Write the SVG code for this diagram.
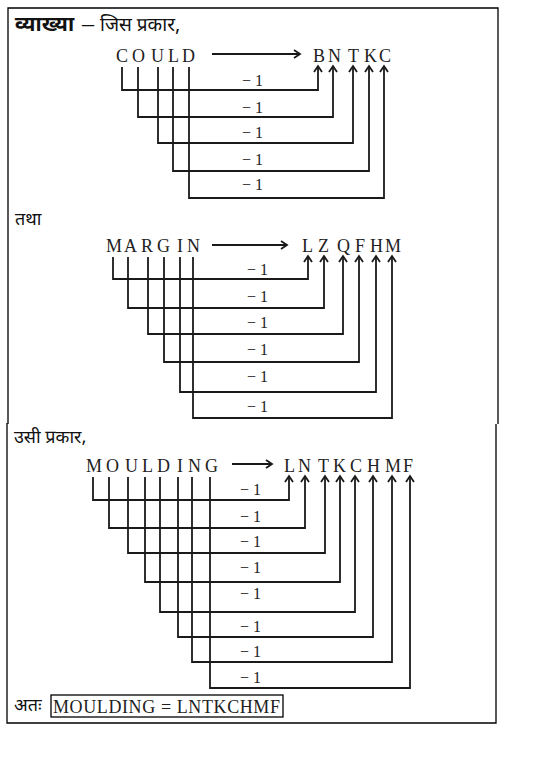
<svg xmlns="http://www.w3.org/2000/svg" width="552" height="778" viewBox="0 0 552 778">
<style>
.hi{font-family:"Noto Sans Devanagari","Noto Sans","DejaVu Sans",sans-serif;font-size:18px;fill:#111}
.lt{font-family:"Liberation Serif","Times New Roman",serif;font-size:18px;fill:#222}
.m1{font-family:"Liberation Serif","Times New Roman",serif;font-size:16px;fill:#222}
.ln{fill:none;stroke:#1a1a1a;stroke-width:1.8}
.bd{fill:none;stroke:#000;stroke-width:1.3}
</style>
<defs>
<marker id="ah" viewBox="-9 -6 11 12" refX="0" refY="0" markerWidth="11" markerHeight="12" markerUnits="userSpaceOnUse" orient="auto">
<path d="M-6,-4 L0,0 L-6,4" fill="none" stroke="#1a1a1a" stroke-width="1.8"/>
</marker>
</defs>
<rect width="552" height="778" fill="#fff"/>
<g id="frame">
<path class="bd" d="M8,424 V8 H498 V424"/>
<path class="bd" d="M7,423 V723 H496 V424"/>
</g>
<g id="headings">
<text class="hi" x="15" y="31"><tspan font-weight="bold" font-size="21">व्याख्या</tspan><tspan x="82" font-family="Liberation Serif,serif" font-size="24">–</tspan><tspan x="100" font-size="19">जिस प्रकार,</tspan></text>
<text class="hi" x="15" y="225">तथा</text>
<text class="hi" x="14" y="443">उसी प्रकार,</text>
<text class="hi" x="14" y="711">अतः</text>
</g>
<g id="could">
<text class="lt" x="116 132 151 168 182" y="62">COULD</text>
<text class="lt" x="313 328 348 364 379" y="62">BNTKC</text>
</g>
<g id="margin">
<text class="lt" x="106 124 141 157 177 187" y="252">MARGIN</text>
<text class="lt" x="302 318 337 355 370 385" y="252">LZQFHM</text>
</g>
<g id="moulding">
<text class="lt" x="86 106 125 142 157 177 188 205" y="472">MOULDING</text>
<text class="lt" x="284 298 318 333 350 367 385 403" y="472">LNTKCHMF</text>
</g>
<g id="answer">
<rect class="bd" x="51" y="695" width="232" height="22"/>
<text class="lt" x="53" y="713" font-size="18.5" fill="#111" textLength="227">MOULDING = LNTKCHMF</text>
</g>
<g id="labels">
<text class="m1" x="242" y="86">− 1</text>
<text class="m1" x="242" y="113">− 1</text>
<text class="m1" x="242" y="138">− 1</text>
<text class="m1" x="242" y="165">− 1</text>
<text class="m1" x="242" y="190">− 1</text>
<text class="m1" x="247" y="275">− 1</text>
<text class="m1" x="247" y="302">− 1</text>
<text class="m1" x="247" y="328">− 1</text>
<text class="m1" x="247" y="355">− 1</text>
<text class="m1" x="247" y="382">− 1</text>
<text class="m1" x="247" y="412">− 1</text>
<text class="m1" x="240" y="495">− 1</text>
<text class="m1" x="240" y="522">− 1</text>
<text class="m1" x="240" y="547">− 1</text>
<text class="m1" x="240" y="573">− 1</text>
<text class="m1" x="240" y="599">− 1</text>
<text class="m1" x="240" y="632">− 1</text>
<text class="m1" x="240" y="657">− 1</text>
<text class="m1" x="240" y="683">− 1</text>
</g>
<g id="connectors">
<path class="ln" marker-end="url(#ah)" d="M212,54 H300"/>
<path class="ln" marker-end="url(#ah)" d="M122,67 V90 H318 V66"/>
<path class="ln" marker-end="url(#ah)" d="M138,67 V117 H333 V66"/>
<path class="ln" marker-end="url(#ah)" d="M158,67 V143 H353 V66"/>
<path class="ln" marker-end="url(#ah)" d="M173,67 V171 H369 V66"/>
<path class="ln" marker-end="url(#ah)" d="M189,67 V198 H384 V66"/>
<path class="ln" marker-end="url(#ah)" d="M212,245 H287"/>
<path class="ln" marker-end="url(#ah)" d="M113,257 V279 H308 V256"/>
<path class="ln" marker-end="url(#ah)" d="M128,257 V308 H324 V256"/>
<path class="ln" marker-end="url(#ah)" d="M148,257 V334 H343 V256"/>
<path class="ln" marker-end="url(#ah)" d="M164,257 V362 H359 V256"/>
<path class="ln" marker-end="url(#ah)" d="M180,257 V392 H376 V256"/>
<path class="ln" marker-end="url(#ah)" d="M193,257 V418 H392 V256"/>
<path class="ln" marker-end="url(#ah)" d="M232,464 H272"/>
<path class="ln" marker-end="url(#ah)" d="M93,477 V500 H289 V476"/>
<path class="ln" marker-end="url(#ah)" d="M109,477 V528 H305 V476"/>
<path class="ln" marker-end="url(#ah)" d="M128,477 V553 H325 V476"/>
<path class="ln" marker-end="url(#ah)" d="M145,477 V582 H340 V476"/>
<path class="ln" marker-end="url(#ah)" d="M160,477 V612 H355 V476"/>
<path class="ln" marker-end="url(#ah)" d="M178,477 V637 H373 V476"/>
<path class="ln" marker-end="url(#ah)" d="M192,477 V662 H392 V476"/>
<path class="ln" marker-end="url(#ah)" d="M210,477 V688 H410 V476"/>
</g>
</svg>
